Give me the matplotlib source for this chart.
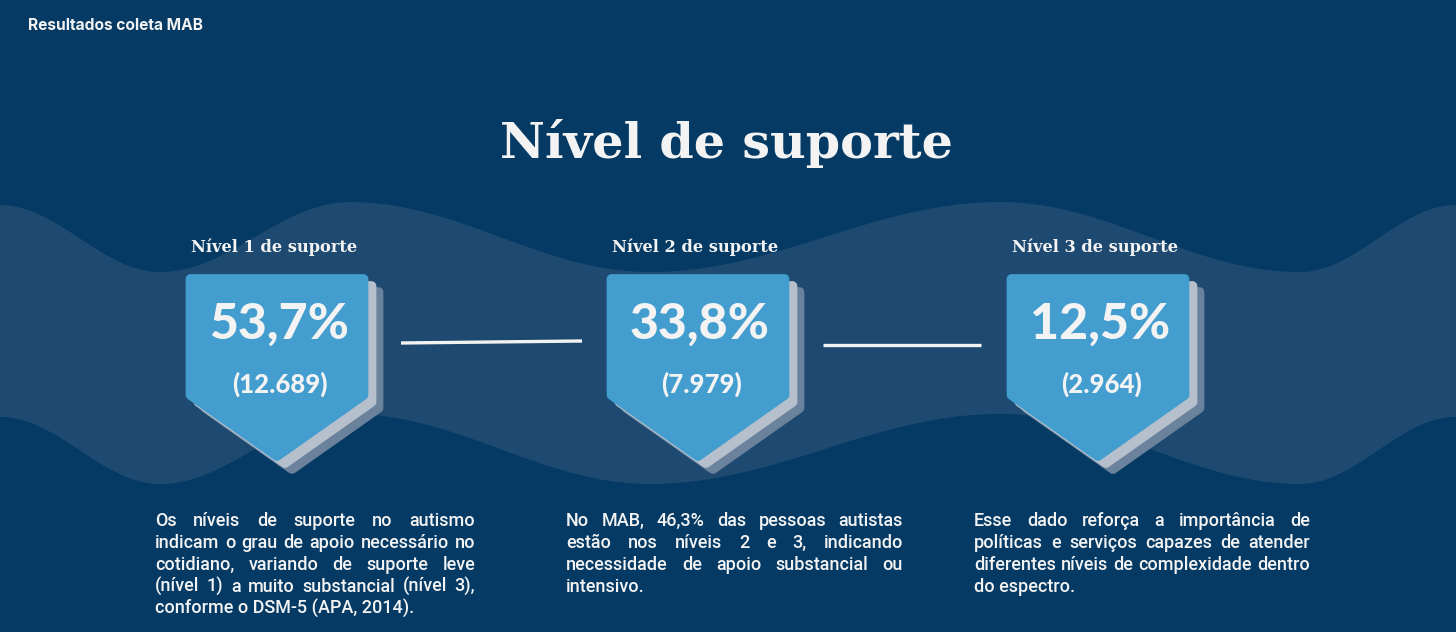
import numpy as np
import matplotlib
matplotlib.use("Agg")
import matplotlib.pyplot as plt
from matplotlib.patches import Polygon

# data
levels = ["Nível 1 de suporte", "Nível 2 de suporte", "Nível 3 de suporte"]
percentages = [53.7, 33.8, 12.5]
counts = [12689, 7979, 2964]
paragraphs = [
    ["Os níveis de suporte no autismo",
     "indicam o grau de apoio necessário no",
     "cotidiano, variando de suporte leve",
     "(nível 1) a muito substancial (nível 3),",
     "conforme o DSM-5 (APA, 2014)."],
    ["No MAB, 46,3% das pessoas autistas",
     "estão nos níveis 2 e 3, indicando",
     "necessidade de apoio substancial ou",
     "intensivo."],
    ["Esse dado reforça a importância de",
     "políticas e serviços capazes de atender",
     "diferentes níveis de complexidade dentro",
     "do espectro."],
]

BG = "#043a63"
BAND = "#1e4970"
CARD = "#439dcf"
SHADOW_1 = "#b5c0cc"
SHADOW_2 = "#6b829d"
WHITE = "#f3f3f3"

W, H = 1456, 632


def fmt_pct(v):
    return f"{v:.1f}".replace(".", ",") + "%"


def fmt_count(n):
    return "(" + f"{n:,}".replace(",", ".") + ")"


def wave_top(x):
    # extremes of the decorative wave (x, y) in pixels
    ext = [(0, 205), (160, 272), (350, 202), (650, 272), (1000, 202), (1300, 272), (1456, 205)]
    xs = np.array([p[0] for p in ext], dtype=float)
    ys = np.array([p[1] for p in ext], dtype=float)
    out = np.empty_like(x)
    for i, xv in enumerate(x):
        j = min(np.searchsorted(xs, xv, side="right") - 1, len(xs) - 2)
        t = (xv - xs[j]) / (xs[j + 1] - xs[j])
        out[i] = ys[j] + (ys[j + 1] - ys[j]) * (1 - np.cos(np.pi * t)) / 2
    return out


def card_shape(cx, top, width=183, side=395, tip=461, inset=5):
    l, r = cx - width / 2 + inset, cx + width / 2 - inset
    return [(l, top + inset), (r, top + inset), (r, side), (cx, tip - inset), (l, side)]


def draw_card(ax, cx, pct, count, label):
    for (dx, dy), col in [((15, 13), SHADOW_2), ((8, 7), SHADOW_1), ((0, 0), CARD)]:
        pts = [(x + dx, y + dy) for x, y in card_shape(cx, 274)]
        ax.add_patch(Polygon(pts, closed=True, facecolor=col, edgecolor=col,
                             linewidth=7, joinstyle="round", zorder=3))
    ax.text(cx - 3, 247, label, ha="center", va="center", color=WHITE,
            fontsize=11.7, fontweight="bold", family="DejaVu Serif", zorder=4)
    ax.text(cx + 2, 324, fmt_pct(pct), ha="center", va="center", color=WHITE,
            fontsize=36, fontweight="black", family="Lato", zorder=4)
    ax.text(cx + 3, 384, fmt_count(count), ha="center", va="center", color=WHITE,
            fontsize=18.5, fontweight="black", family="Lato", zorder=4)


def justified(ax, renderer, lines, x0, x1, y0, step=22, size=13, weight="medium"):
    for k, line in enumerate(lines):
        y = y0 + k * step
        words = line.split()
        if k == len(lines) - 1 or len(words) == 1:
            ax.text(x0, y, line, ha="left", va="baseline", color=WHITE,
                    fontsize=size, fontweight=weight, family="Roboto", zorder=4)
            continue
        widths = []
        for w in words:
            t = ax.text(0, 0, w, fontsize=size, fontweight=weight, family="Roboto")
            widths.append(t.get_window_extent(renderer).width)
            t.remove()
        gap = (x1 - x0 - sum(widths)) / (len(words) - 1)
        x = x0
        for w, wd in zip(words, widths):
            ax.text(x, y, w, ha="left", va="baseline", color=WHITE,
                    fontsize=size, fontweight=weight, family="Roboto", zorder=4)
            x += wd + gap


fig = plt.figure(figsize=(W / 100, H / 100), dpi=100, facecolor=BG)
ax = fig.add_axes([0, 0, 1, 1])
ax.set_xlim(0, W)
ax.set_ylim(H, 0)
ax.axis("off")
ax.set_facecolor(BG)

xs = np.linspace(0, W, 600)
top = wave_top(xs)
ax.fill_between(xs, top, top + 212, color=BAND, lw=0, zorder=1)

ax.text(28, 26, "Resultados coleta MAB", ha="left", va="center", color=WHITE,
        fontsize=11.2, fontweight="bold", family="Inter")
ax.text(727, 143, "Nível de suporte", ha="center", va="center", color=WHITE,
        fontsize=35.5, fontweight="heavy", family="DejaVu Serif")

card_x = [277, 698, 1098]
for cx, p, c, lab in zip(card_x, percentages, counts, levels):
    draw_card(ax, cx, p, c, lab)

ax.plot([401, 582], [343, 341], color=WHITE, lw=2.4, solid_capstyle="butt", zorder=2)
ax.plot([823, 981], [345, 345], color=WHITE, lw=2.4, solid_capstyle="butt", zorder=2)

renderer = fig.canvas.get_renderer()
for lines, (x0, x1) in zip(paragraphs, [(155, 475), (566, 903), (974, 1310)]):
    justified(ax, renderer, lines, x0, x1, 526)

fig.savefig("out.png", dpi=100, facecolor=BG)
